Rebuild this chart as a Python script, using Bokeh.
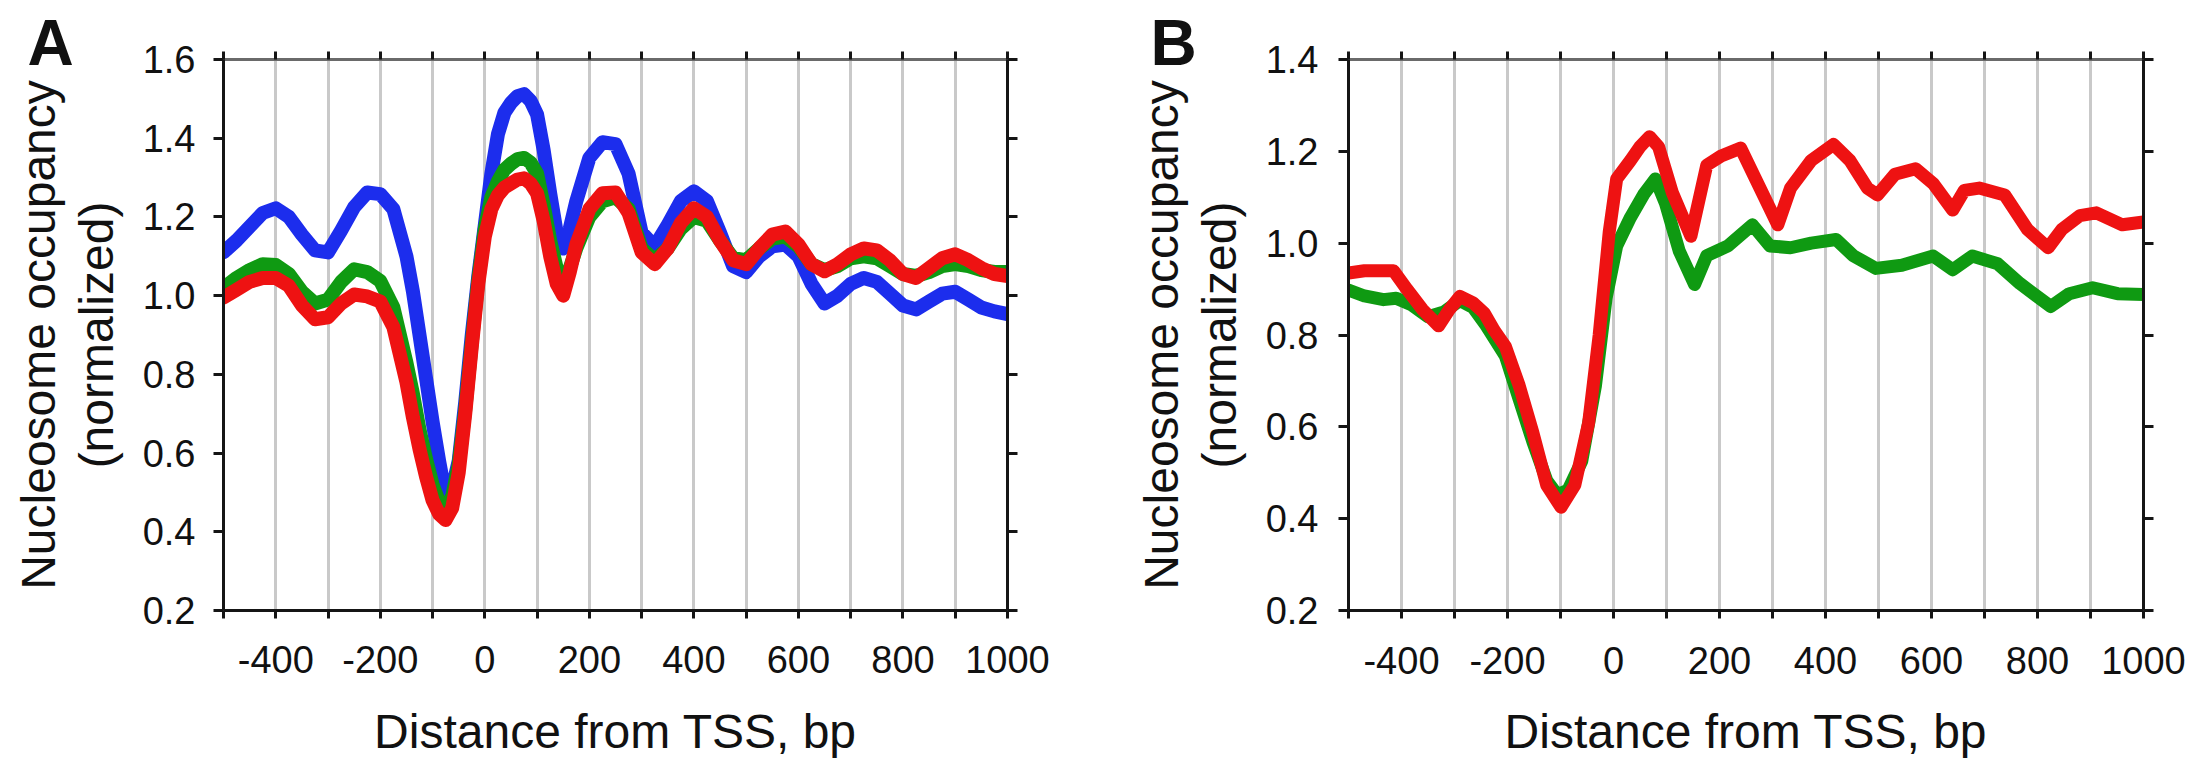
from bokeh.plotting import figure
from bokeh.models import Range1d, LinearAxis, FixedTicker, Title, PrintfTickFormatter, CustomJSTickFormatter
from bokeh.layouts import row
from bokeh.embed import file_html
from bokeh.resources import INLINE

FONT = "Liberation Sans"

# ---------------- Panel A data ----------------
a_x = [-500, -475, -450, -425, -400, -375, -350, -325, -300, -275, -250, -225, -200, -175, -150,
       -137.5, -125, -112.5, -100, -87.5, -75, -62.5, -50, -37.5, -25, -12.5, 0, 12.5, 25, 37.5,
       50, 62.5, 75, 87.5, 100, 112.5, 125, 137.5, 150, 162.5,
       175, 200, 225, 250, 275, 300, 325, 350, 375, 400, 425, 450, 475, 500, 525, 550, 575, 600,
       625, 650, 675, 700, 725, 750, 775, 800, 825, 850, 875, 900, 925, 950, 975, 1000]
a_blue = [1.11, 1.14, 1.175, 1.21, 1.222, 1.20, 1.155, 1.115, 1.11, 1.165, 1.225, 1.262, 1.258, 1.22, 1.10,
          1.01, 0.90, 0.79, 0.68, 0.58, 0.49, 0.51, 0.58, 0.73, 0.90, 1.05, 1.18, 1.31, 1.41, 1.465,
          1.49, 1.507, 1.512, 1.495, 1.46, 1.37, 1.26, 1.16, 1.12, 1.17,
          1.24, 1.35, 1.39, 1.385, 1.31, 1.16, 1.125, 1.18, 1.24, 1.265, 1.24, 1.16, 1.075, 1.06,
          1.10, 1.125, 1.13, 1.10, 1.03, 0.98, 1.00, 1.03, 1.045, 1.035, 1.005, 0.975, 0.965, 0.985,
          1.005, 1.01, 0.99, 0.97, 0.96, 0.953]
a_green = [1.02, 1.045, 1.065, 1.08, 1.078, 1.055, 1.01, 0.98, 0.99, 1.035, 1.067, 1.06, 1.037, 0.97, 0.83,
           0.75, 0.66, 0.585, 0.52, 0.475, 0.46, 0.49, 0.57, 0.71, 0.88, 1.04, 1.17, 1.25, 1.29, 1.32,
           1.335, 1.347, 1.35, 1.338, 1.31, 1.23, 1.14, 1.07, 1.03, 1.07,
           1.12, 1.20, 1.24, 1.25, 1.22, 1.12, 1.09, 1.12, 1.17, 1.20, 1.19, 1.14, 1.095, 1.09,
           1.12, 1.145, 1.15, 1.125, 1.08, 1.065, 1.075, 1.095, 1.10, 1.095, 1.075, 1.055, 1.05, 1.06,
           1.075, 1.08, 1.075, 1.065, 1.06, 1.06]
a_red = [0.995, 1.015, 1.035, 1.045, 1.045, 1.025, 0.975, 0.94, 0.945, 0.98, 1.003, 0.998, 0.985, 0.92, 0.78,
         0.69, 0.61, 0.54, 0.48, 0.445, 0.43, 0.46, 0.55, 0.70, 0.87, 1.03, 1.15, 1.22, 1.255, 1.275,
         1.285, 1.295, 1.298, 1.285, 1.26, 1.19, 1.10, 1.03, 1.00, 1.06,
         1.13, 1.22, 1.26, 1.262, 1.21, 1.11, 1.08, 1.12, 1.185, 1.222, 1.20, 1.14, 1.09, 1.08,
         1.12, 1.155, 1.163, 1.13, 1.08, 1.062, 1.08, 1.105, 1.12, 1.115, 1.09, 1.055, 1.045, 1.07,
         1.095, 1.105, 1.09, 1.07, 1.055, 1.05]

# ---------------- Panel B data ----------------
b_red_x = [-500, -470, -440, -415, -390, -360, -330, -310, -290, -265, -244, -225,
           -204, -178, -152, -126, -99, -73, -47, -27, -8, 6, 32, 50, 68, 85, 111,
           146, 176, 203, 240, 268, 310, 334, 373, 415, 446, 479, 498, 531, 570,
           603, 640, 662, 690, 738, 781, 820, 846, 880, 911, 960, 1000]
b_red = [0.935, 0.94, 0.94, 0.94, 0.90, 0.855, 0.82, 0.855, 0.884, 0.87, 0.848, 0.81,
         0.775, 0.69, 0.587, 0.473, 0.425, 0.473, 0.608, 0.80, 1.025, 1.14, 1.18, 1.21,
         1.232, 1.21, 1.11, 1.015, 1.17, 1.19, 1.207, 1.14, 1.04, 1.12, 1.18, 1.215,
         1.18, 1.12, 1.105, 1.15, 1.162, 1.13, 1.072, 1.115, 1.12, 1.105, 1.03, 0.99,
         1.03, 1.06, 1.066, 1.04, 1.046]
b_green_x = [-500, -470, -434, -410, -380, -350, -320, -290, -265, -240, -204, -178,
             -152, -126, -106, -86, -60, -34, -14, 6, 32, 58, 79, 98, 124, 153, 176,
             216, 262, 295, 334, 373, 420, 452, 495, 544, 603, 640, 677, 725, 767,
             825, 860, 904, 951, 1000]
b_green = [0.898, 0.885, 0.877, 0.88, 0.865, 0.84, 0.85, 0.875, 0.86, 0.82, 0.754, 0.66,
           0.567, 0.483, 0.452, 0.462, 0.525, 0.69, 0.88, 0.994, 1.056, 1.108, 1.14,
           1.087, 0.983, 0.91, 0.973, 0.994, 1.04, 0.994, 0.99, 1.0, 1.008, 0.973,
           0.945, 0.952, 0.972, 0.942, 0.972, 0.955, 0.912, 0.862, 0.89, 0.903, 0.89,
           0.888]

x_major = [-400, -200, 0, 200, 400, 600, 800, 1000]
x_minor = [-500, -300, -100, 100, 300, 500, 700, 900]
x_grid = list(range(-400, 1001, 100))
a_yticks = [0.2, 0.4, 0.6, 0.8, 1.0, 1.2, 1.4, 1.6]
b_yticks = [0.2, 0.4, 0.6, 0.8, 1.0, 1.2, 1.4]

x_title = "Distance from TSS, bp"
y_title_1 = "Nucleosome occupancy"
y_title_2 = "(normalized)"

BLUE = "#1c2ded"
GREEN = "#0f9a12"
RED = "#ee1212"
AXIS = "#151515"
EMPTY = "return ''"


def style_axis(ax):
    ax.axis_line_color = AXIS
    ax.axis_line_width = 3
    ax.major_tick_line_color = AXIS
    ax.major_tick_line_width = 3
    ax.minor_tick_line_color = AXIS
    ax.minor_tick_line_width = 3
    ax.major_tick_in = 0
    ax.minor_tick_in = 0
    ax.major_label_text_font = FONT
    ax.major_label_text_font_size = "38px"
    ax.major_label_text_color = "#111111"
    ax.axis_label_text_font = FONT
    ax.axis_label_text_font_size = "48px"
    ax.axis_label_text_font_style = "normal"
    ax.axis_label_text_color = "#111111"


def make_panel(width, ymax, yticks, borders, letter, letter_offset, stand):
    p = figure(width=width, height=764, output_backend="svg", toolbar_location=None,
               x_range=Range1d(-500, 1000), y_range=Range1d(0.2, ymax),
               min_border_left=borders[0], min_border_right=borders[1],
               min_border_top=borders[2], min_border_bottom=borders[3],
               x_axis_location=None, y_axis_location=None)
    p.outline_line_color = None
    p.background_fill_color = "white"
    p.border_fill_color = "white"
    p.ygrid.visible = False
    p.xgrid.ticker = FixedTicker(ticks=x_grid)
    p.xgrid.grid_line_color = "#c9c9c9"
    p.xgrid.grid_line_width = 3

    xt = FixedTicker(ticks=x_major, minor_ticks=x_minor)
    yt = FixedTicker(ticks=yticks, minor_ticks=[])

    below = LinearAxis(ticker=xt, axis_label=x_title,
                       major_label_overrides={-400: "-400", -200: "-200"})
    left = LinearAxis(ticker=yt, axis_label=y_title_2, formatter=PrintfTickFormatter(format="%.1f"))
    left_outer = LinearAxis(ticker=yt, axis_label=y_title_1, formatter=CustomJSTickFormatter(code=EMPTY))
    above = LinearAxis(ticker=xt, formatter=CustomJSTickFormatter(code=EMPTY))
    right = LinearAxis(ticker=yt, formatter=CustomJSTickFormatter(code=EMPTY))

    for ax in (below, left, left_outer, above, right):
        style_axis(ax)
    for ax in (below, above):
        ax.major_tick_out = 8
        ax.minor_tick_out = 8
    for ax in (left, right):
        ax.major_tick_out = 10
        ax.minor_tick_out = 0
    above.axis_line_color = "#6a6a6a"
    for ax in (above, right, left_outer):
        ax.major_label_text_font_size = "1px"
        ax.major_label_standoff = 0
    left_outer.axis_line_color = None
    left_outer.major_tick_out = 0
    left_outer.minor_tick_out = 0
    left_outer.axis_label_standoff = stand[4]

    left.major_label_standoff = stand[0]
    left.axis_label_standoff = stand[1]
    below.major_label_standoff = stand[2]
    below.axis_label_standoff = stand[3]

    p.add_layout(below, "below")
    p.add_layout(left, "left")
    p.add_layout(left_outer, "left")
    p.add_layout(above, "above")
    p.add_layout(right, "right")

    p.add_layout(Title(text=letter, align="left", offset=letter_offset, standoff=-54,
                       vertical_align="bottom", text_font=FONT, text_font_size="64px",
                       text_font_style="bold", text_color="#111111"), "above")
    return p


pA = make_panel(1100, 1.6, a_yticks, (223, 93, 58, 154), "A", -196, (18, 17, 27, 29, 2))
pA.line(a_x, a_blue, line_color=BLUE, line_width=14, line_join="round", line_cap="round")
pA.line(a_x, a_green, line_color=GREEN, line_width=14, line_join="round", line_cap="round")
pA.line(a_x, a_red, line_color=RED, line_width=14, line_join="round", line_cap="round")

pB = make_panel(1098, 1.4, b_yticks, (248, 55, 59, 145), "B", -198, (20, 17, 28, 28, 2))
pB.line(b_green_x, b_green, line_color=GREEN, line_width=13, line_join="round", line_cap="round")
pB.line(b_red_x, b_red, line_color=RED, line_width=13, line_join="round", line_cap="round")

layout = row(pA, pB)
open("out.html", "w").write(file_html(layout, INLINE))
